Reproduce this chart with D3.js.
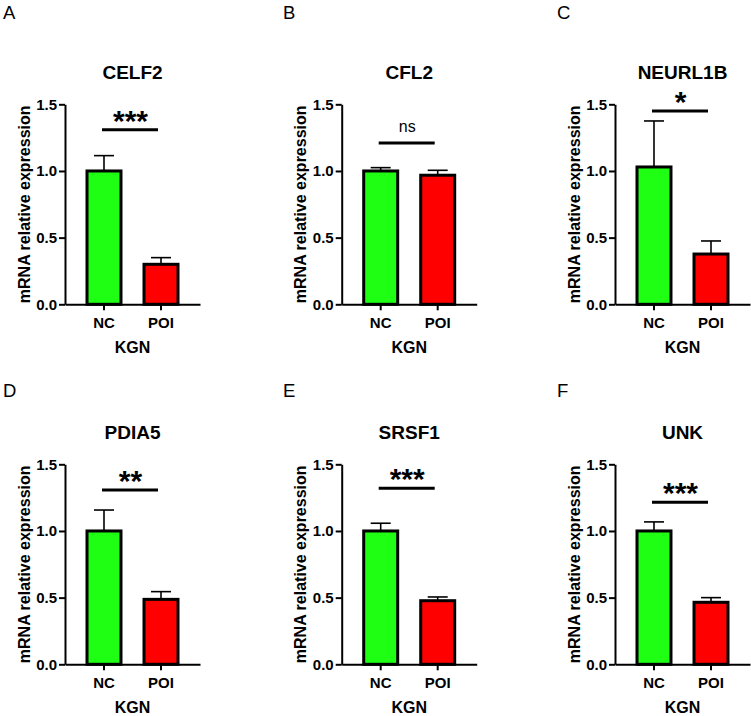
<!DOCTYPE html>
<html>
<head>
<meta charset="utf-8">
<script src="https://cdn.jsdelivr.net/npm/d3@7/dist/d3.min.js"></script>
<style>
  html, body { margin: 0; padding: 0; background: #fff; }
  svg { display: block; }
  text { font-family: Arial, "Liberation Sans", sans-serif; fill: #000; }
</style>
</head>
<body>
<svg id="chart" width="751" height="716"></svg>
<script>
// ---------------- DATA ----------------
const genes        = ["CELF2", "CFL2", "NEURL1B", "PDIA5", "SRSF1", "UNK"];
const panelLetters = ["A", "B", "C", "D", "E", "F"];
const groups       = ["NC", "POI"];
const ncMeans      = [1.00, 1.00, 1.03, 1.00, 1.00, 1.00];
const ncSD         = [0.115, 0.025, 0.345, 0.157, 0.058, 0.068];
const poiMeans     = [0.30, 0.968, 0.377, 0.487, 0.477, 0.465];
const poiSD        = [0.050, 0.037, 0.098, 0.058, 0.028, 0.035];
const sigLabels    = ["***", "ns", "*", "**", "***", "***"];
const sigHeights   = [1.31, 1.21, 1.45, 1.307, 1.32, 1.215];
const yTicks       = [0, 0.5, 1.0, 1.5];
const xAxisTitle   = "KGN";
const yAxisTitle   = "mRNA relative expression";
const barColors    = {NC: "#1EFF14", POI: "#FF0000"};

// ---------------- LAYOUT ----------------
const colX = [65, 341.7, 615];
const rowTop = [104.3, 464.3];
const plotW = 135, plotH = 200;
const letterX = [3, 283, 557];
const letterBase = [18.5, 397];

const svg = d3.select("#chart");

genes.forEach((gene, i) => {
  const col = i % 3, row = Math.floor(i / 3);
  const g = svg.append("g").attr("transform", `translate(${colX[col]},${rowTop[row]})`);

  const x = d3.scaleBand().domain(groups).range([0, plotW]).paddingInner(0.404).paddingOuter(0.386);
  const y = d3.scaleLinear().domain([0, 1.5]).range([plotH, 0]);

  const values = [
    {group: "NC",  mean: ncMeans[i],  sd: ncSD[i]},
    {group: "POI", mean: poiMeans[i], sd: poiSD[i]}
  ];

  // panel letter
  svg.append("text")
    .attr("x", letterX[col]).attr("y", letterBase[row])
    .attr("font-size", 18.5).attr("font-weight", "normal")
    .text(panelLetters[i]);

  // title
  g.append("text")
    .attr("x", plotW / 2).attr("y", -25.3)
    .attr("text-anchor", "middle")
    .attr("font-size", 19).attr("font-weight", "bold")
    .text(gene);

  // error bars (upper)
  const eb = g.append("g");
  values.forEach(d => {
    const cx = x(d.group) + x.bandwidth() / 2;
    eb.append("line")
      .attr("x1", cx).attr("x2", cx)
      .attr("y1", y(d.mean)).attr("y2", y(d.mean + d.sd))
      .attr("stroke", "#000").attr("stroke-width", 1.6);
    eb.append("line")
      .attr("x1", cx - 10).attr("x2", cx + 10)
      .attr("y1", y(d.mean + d.sd)).attr("y2", y(d.mean + d.sd))
      .attr("stroke", "#000").attr("stroke-width", 1.6);
  });

  // bars
  g.selectAll("rect.bar").data(values).enter().append("rect")
    .attr("class", "bar")
    .attr("x", d => x(d.group))
    .attr("y", d => y(d.mean))
    .attr("width", x.bandwidth())
    .attr("height", d => y(0) - y(d.mean))
    .attr("fill", d => barColors[d.group])
    .attr("stroke", "#000").attr("stroke-width", 3);

  // axes
  const yAxis = g.append("g")
    .call(d3.axisLeft(y).tickValues(yTicks).tickFormat(d3.format(".1f")).tickSize(6).tickSizeOuter(0).tickPadding(2));
  const xAxis = g.append("g").attr("transform", `translate(0,${plotH})`)
    .call(d3.axisBottom(x).tickSize(6).tickSizeOuter(0).tickPadding(7));
  [yAxis, xAxis].forEach(a => {
    a.select(".domain").attr("stroke", "#000").attr("stroke-width", 2);
    a.selectAll(".tick line").attr("stroke", "#000").attr("stroke-width", 2);
    a.selectAll(".tick text")
      .attr("font-size", 15).attr("font-weight", "bold")
      .attr("font-family", 'Arial, "Liberation Sans", sans-serif').attr("fill", "#000");
  });

  // axis titles
  g.append("text")
    .attr("transform", `translate(-35.5,${plotH / 2}) rotate(-90)`)
    .attr("text-anchor", "middle")
    .attr("font-size", 16).attr("font-weight", "bold")
    .text(yAxisTitle);
  g.append("text")
    .attr("x", plotW / 2).attr("y", plotH + 48.5)
    .attr("text-anchor", "middle")
    .attr("font-size", 16).attr("font-weight", "bold")
    .text(xAxisTitle);

  // significance bracket
  const x1 = x("NC") + x.bandwidth() / 2, x2 = x("POI") + x.bandwidth() / 2;
  const ly = y(sigHeights[i]);
  g.append("line")
    .attr("x1", x1 - 2).attr("x2", x2 - 3)
    .attr("y1", ly).attr("y2", ly)
    .attr("stroke", "#000").attr("stroke-width", 3);
  const isNs = sigLabels[i] === "ns";
  g.append("text")
    .attr("x", (x1 + x2) / 2 - 2)
    .attr("y", isNs ? ly - 11 : ly + 1)
    .attr("text-anchor", "middle")
    .attr("font-size", isNs ? 16 : 30)
    .attr("font-weight", isNs ? "normal" : "bold")
    .text(sigLabels[i]);
});
</script>
</body>
</html>
